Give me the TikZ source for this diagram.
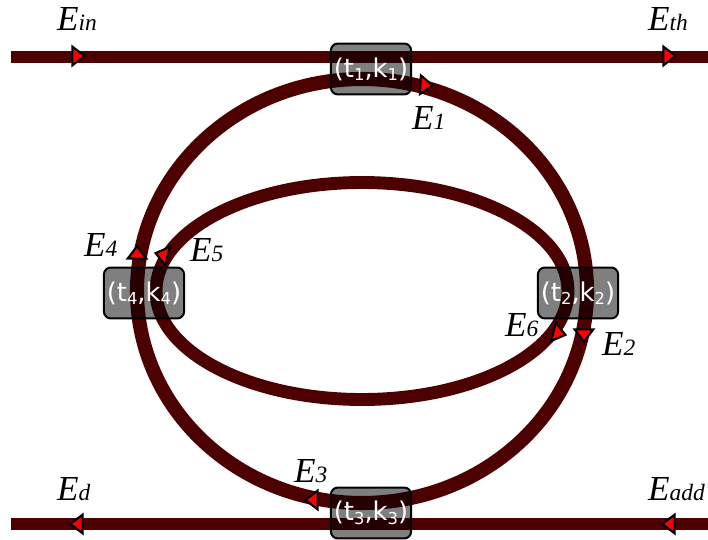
\documentclass[tikz,border=0pt]{standalone}
\usepackage{fontspec}
\setmainfont{Liberation Serif}
\newfontfamily\boxfont{DejaVu Sans}
\usetikzlibrary{shapes.geometric}

\newcommand{\fieldlab}[2]{\textit{\fontsize{30}{30}\selectfont #1\fontsize{20}{20}\selectfont #2}}
\newcommand{\couplab}[1]{(t\raisebox{-3pt}{\fontsize{14}{14}\selectfont #1},k\raisebox{-3pt}{\fontsize{14}{14}\selectfont #1})}
\definecolor{guide}{HTML}{4D0000}

\begin{document}
\begin{tikzpicture}[
        x=0.03cm, y=-0.03cm,
        bus/.style={guide, line width=9.5pt},
        ringo/.style={guide, line width=12pt},
        ringi/.style={guide, line width=11pt},
        coup/.style={rectangle, draw=black, line width=1.7pt, rounded corners=6pt,
                  fill=black, fill opacity=0.5, text opacity=1, text=white,
                  minimum width=68.5pt, minimum height=43.5pt, inner sep=0pt,
                  font=\fontsize{22}{22}\boxfont},
        tip/.style={isosceles triangle, isosceles triangle stretches, draw=black,
                  line width=1.8pt, fill=red, inner sep=0pt, minimum width=16pt,
                  minimum height=10.5pt},
        lab/.style={anchor=base west, inner sep=0pt}]
      \useasboundingbox (0,0) rectangle (708,540);
      % waveguides
      \coordinate (inl) at (11,57);
      \coordinate (inr) at (708,57);
      \coordinate (dl) at (11,524);
      \coordinate (dr) at (708,524);
      \coordinate (mid) at (362,291);
      \draw[bus] (inl) -- (inr);
      \draw[bus] (dl) -- (dr);
      \draw[ringo] (mid) ellipse [x radius=225, y radius=212];
      \draw[ringi] (mid) ellipse [x radius=206, y radius=108.5];
      % couplers
      \node[coup] (c1) at (371,69) {\couplab{1}};
      \node[coup] (c2) at (578,293) {\couplab{2}};
      \node[coup] (c3) at (371,513) {\couplab{3}};
      \node[coup] (c4) at (144,293) {\couplab{4}};
      % field directions
      \node[tip] (ain) at (77,56) {};
      \node[tip] (ath) at (668,56) {};
      \node[tip, rotate=-3] (a1) at (425,85) {};
      \node[tip, rotate=-90] (a2) at (584,334) {};
      \node[tip, rotate=180] (a3) at (313,500) {};
      \node[tip, rotate=90] (a4) at (137,254) {};
      \node[tip, rotate=166] (a5) at (163,255) {};
      \node[tip, rotate=-14] (a6) at (558,333) {};
      \node[tip, rotate=180] (ad) at (78,524) {};
      \node[tip, rotate=180] (aadd) at (670,524) {};
      % labels
      \node[lab] (lin) at (57,31) {\fieldlab{E}{in}};
      \node[lab] (lth) at (648,31) {\fieldlab{E}{th}};
      \node[lab] (l1) at (412,130) {\fieldlab{E}{1}};
      \node[lab] (l2) at (602,355) {\fieldlab{E}{2}};
      \node[lab] (l3) at (294,482) {\fieldlab{E}{3}};
      \node[lab] (l4) at (84,256) {\fieldlab{E}{4}};
      \node[lab] (l5) at (190,261) {\fieldlab{E}{5}};
      \node[lab] (l6) at (505,336) {\fieldlab{E}{6}};
      \node[lab] (ld) at (57,500) {\fieldlab{E}{d}};
      \node[lab] (ladd) at (648,500) {\fieldlab{E}{add}};
    \end{tikzpicture}
\end{document}
